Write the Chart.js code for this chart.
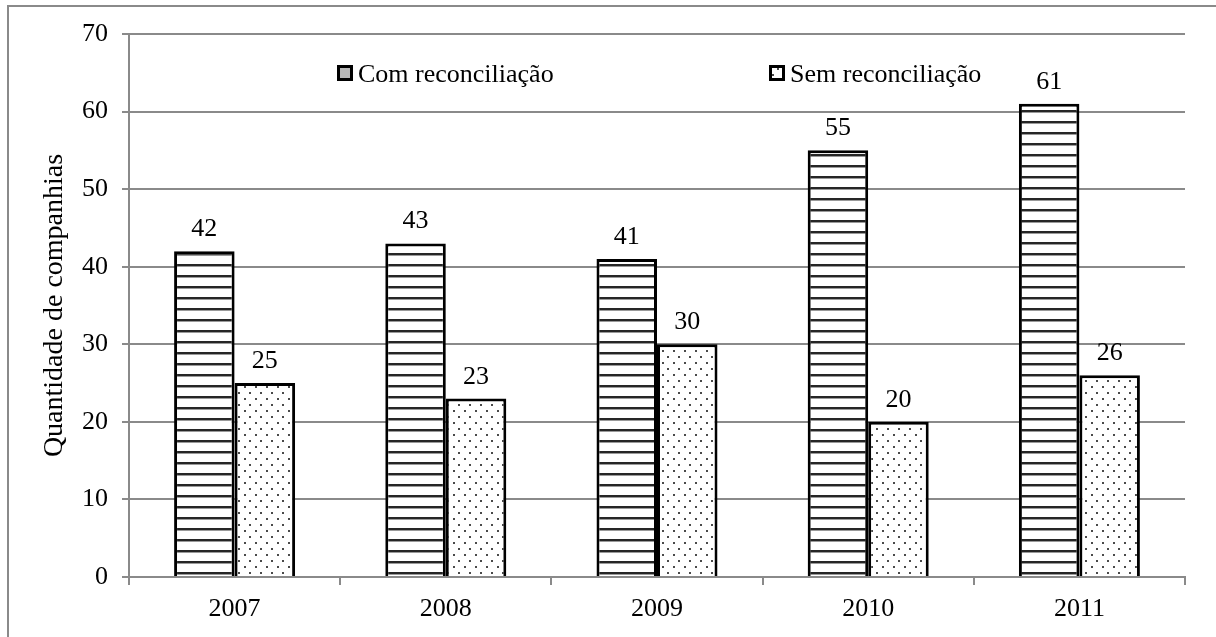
<!DOCTYPE html>
<html lang="pt">
<head>
<meta charset="utf-8">
<title>Quantidade de companhias</title>
<script src="https://cdn.jsdelivr.net/npm/chart.js@4/dist/chart.umd.min.js"></script>
<style>
  html, body { margin: 0; padding: 0; background: #ffffff; }
  #wrap { width: 1216px; height: 637px; }
</style>
</head>
<body>
<div id="wrap"><canvas id="chart" width="1216" height="637"></canvas></div>
<script>
// Anos e quantidade de companhias por grupo
const years = ['2007', '2008', '2009', '2010', '2011'];
const comReconciliacao = [42, 43, 41, 55, 61];
const semReconciliacao = [25, 23, 30, 20, 26];
const seriesNames = ['Com reconciliação', 'Sem reconciliação'];
const yTicks = [0, 10, 20, 30, 40, 50, 60, 70];
const yTitle = 'Quantidade de companhias';

const FONT = '"Liberation Serif", "Times New Roman", Times, serif';

// Horizontal stripe fill
function stripePattern() {
  const c = document.createElement('canvas');
  c.width = 11; c.height = 11;
  const g = c.getContext('2d');
  g.fillStyle = '#ffffff';
  g.fillRect(0, 0, 11, 11);
  g.fillStyle = '#262626';
  g.fillRect(0, 0, 11, 2);
  g.fillStyle = '#9a9a9a';
  g.fillRect(0, 2, 11, 1);
  return g.createPattern(c, 'repeat');
}

// Staggered dot fill
function dotPattern() {
  const c = document.createElement('canvas');
  c.width = 11; c.height = 12;
  const g = c.getContext('2d');
  g.fillStyle = '#ffffff';
  g.fillRect(0, 0, 11, 12);
  g.fillStyle = '#4a4a4a';
  g.fillRect(2, 2, 2, 2);
  g.fillRect(7, 8, 2, 2);
  return g.createPattern(c, 'repeat');
}

const fills = [stripePattern(), dotPattern()];

// Outer frame (left and top edges)
const framePlugin = {
  id: 'frame',
  beforeDraw(chart) {
    const ctx = chart.ctx;
    ctx.save();
    ctx.strokeStyle = '#8a8a8a';
    ctx.lineWidth = 2;
    ctx.beginPath();
    ctx.moveTo(8, 637);
    ctx.lineTo(8, 6);
    ctx.lineTo(1216, 6);
    ctx.stroke();
    ctx.restore();
  }
};

// Value labels above each bar
const valueLabels = {
  id: 'valueLabels',
  afterDatasetsDraw(chart) {
    const ctx = chart.ctx;
    ctx.save();
    ctx.font = '26px ' + FONT;
    ctx.fillStyle = '#000000';
    ctx.textAlign = 'center';
    ctx.textBaseline = 'alphabetic';
    chart.data.datasets.forEach((ds, i) => {
      chart.getDatasetMeta(i).data.forEach((bar, j) => {
        ctx.fillText(String(ds.data[j]), bar.x, bar.y - 15);
      });
    });
    ctx.restore();
  }
};

// Legend drawn inside the plot area
const innerLegend = {
  id: 'innerLegend',
  afterDraw(chart) {
    const ctx = chart.ctx;
    const items = [{ x: 337 }, { x: 769 }];
    ctx.save();
    ctx.font = '26px ' + FONT;
    ctx.textBaseline = 'alphabetic';
    ctx.textAlign = 'left';
    chart.data.datasets.forEach((ds, i) => {
      const x = items[i].x, y = 65, s = 16;
      ctx.fillStyle = i === 0 ? '#b8b8b8' : ds.backgroundColor;
      ctx.fillRect(x, y, s, s);
      ctx.strokeStyle = '#000000';
      ctx.lineWidth = 3;
      ctx.strokeRect(x + 1.5, y + 1.5, s - 3, s - 3);
      ctx.fillStyle = '#000000';
      ctx.fillText(ds.label, x + s + 5, 82);
    });
    ctx.restore();
  }
};

new Chart(document.getElementById('chart'), {
  type: 'bar',
  data: {
    labels: years,
    datasets: [
      {
        label: seriesNames[0],
        data: comReconciliacao,
        backgroundColor: fills[0],
        borderColor: '#000000',
        borderWidth: 3,
        categoryPercentage: 0.573,
        barPercentage: 1.0
      },
      {
        label: seriesNames[1],
        data: semReconciliacao,
        backgroundColor: fills[1],
        borderColor: '#000000',
        borderWidth: 3,
        categoryPercentage: 0.573,
        barPercentage: 1.0
      }
    ]
  },
  options: {
    responsive: false,
    animation: false,
    devicePixelRatio: 1,
    layout: { padding: { top: 34, right: 31, left: 0, bottom: 0 } },
    plugins: {
      legend: { display: false },
      tooltip: { enabled: false },
      title: { display: false }
    },
    scales: {
      x: {
        offset: true,
        grid: {
          offset: true,
          drawOnChartArea: false,
          drawTicks: true,
          tickLength: 8,
          color: '#8a8a8a',
          lineWidth: 2
        },
        border: { display: true, color: '#8a8a8a', width: 2 },
        ticks: {
          color: '#000000',
          font: { family: FONT, size: 26 },
          padding: 9,
          maxRotation: 0
        },
        afterFit(scale) { scale.height = 60; }
      },
      y: {
        min: 0,
        max: 70,
        afterBuildTicks(scale) { scale.ticks = yTicks.map(v => ({ value: v })); },
        grid: {
          color: '#8a8a8a',
          lineWidth: 2,
          drawTicks: true,
          tickLength: 7
        },
        border: { display: true, color: '#8a8a8a', width: 2 },
        ticks: {
          color: '#000000',
          font: { family: FONT, size: 26 },
          padding: 14
        },
        title: {
          display: true,
          text: yTitle,
          color: '#000000',
          font: { family: FONT, size: 28 },
          padding: { top: 38, bottom: 0 }
        },
        afterFit(scale) { scale.width = 129; }
      }
    }
  },
  plugins: [framePlugin, valueLabels, innerLegend]
});
</script>
</body>
</html>
